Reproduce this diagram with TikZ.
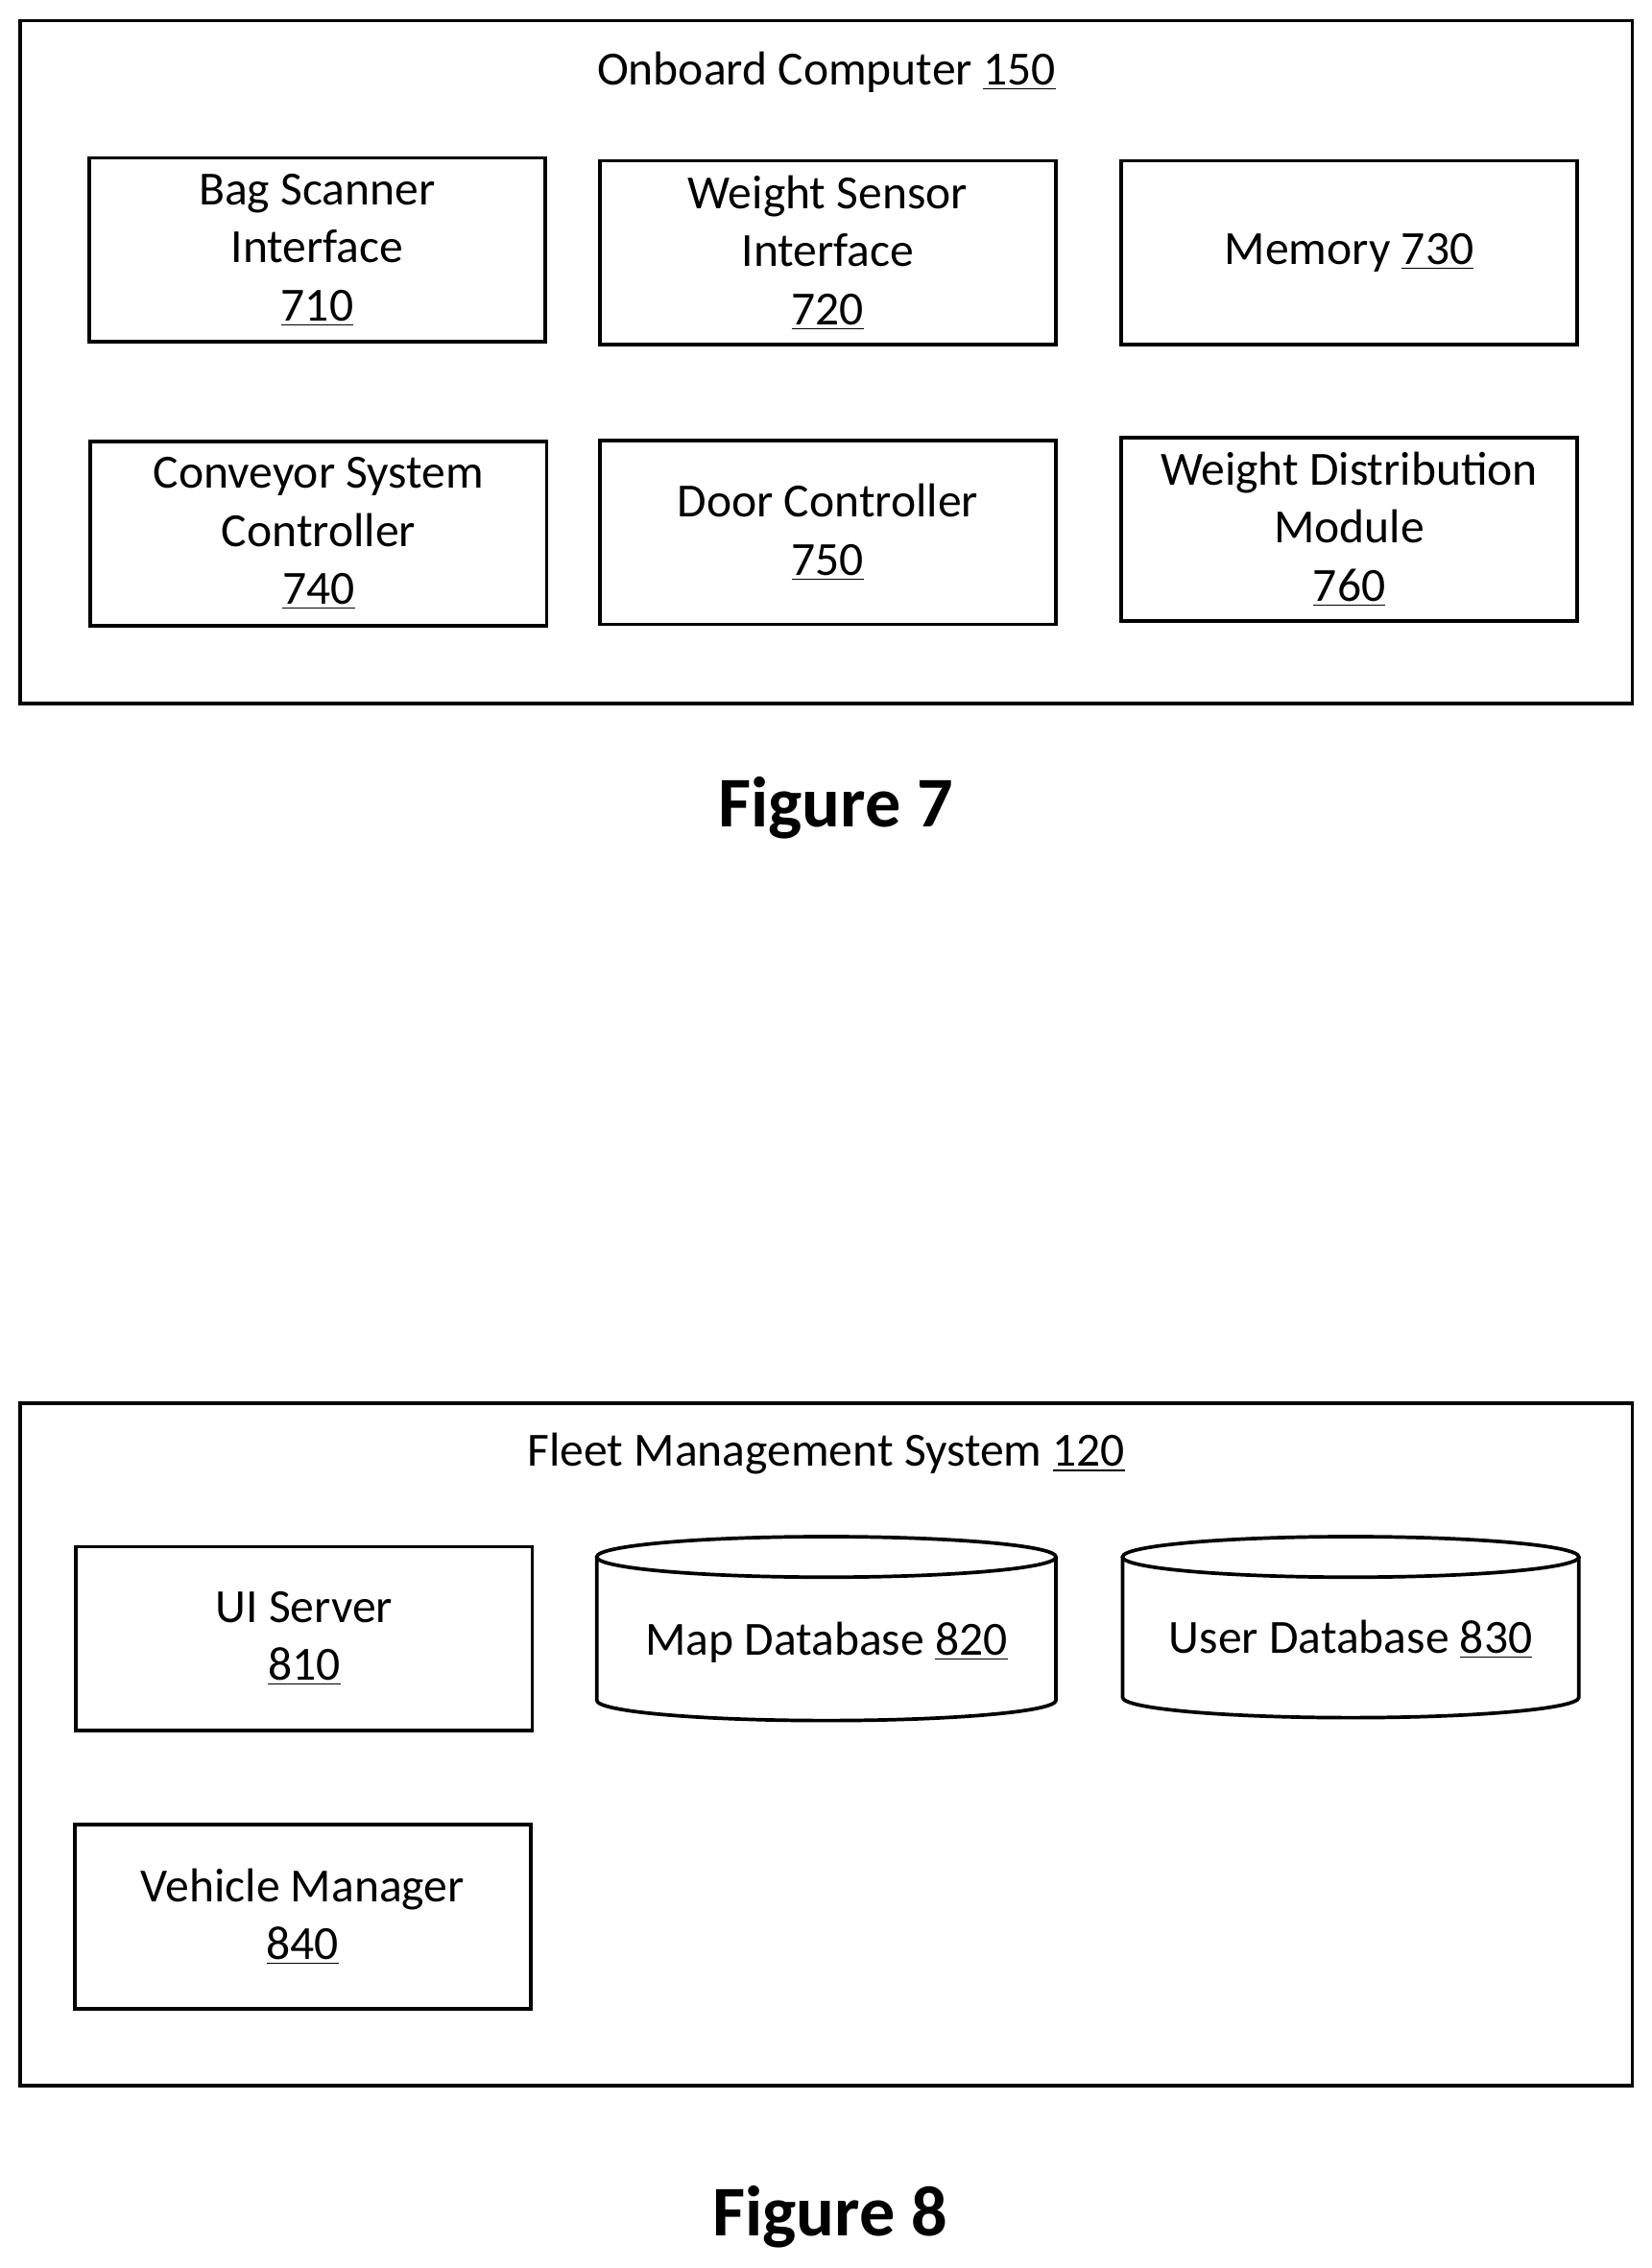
\documentclass[tikz,border=0pt]{standalone}
\usepackage{fontspec}
\setmainfont{Carlito}
\begin{document}
\begin{tikzpicture}[
  box/.style={draw, line width=1.4pt, minimum width=6.3cm, minimum height=2.54cm, align=center, font=\fontsize{18.7}{22.8}\selectfont, inner sep=0pt},
  outer/.style={draw, line width=1.4pt, minimum width=22.26cm, minimum height=9.43cm, inner sep=0pt},
  lbl/.style={font=\fontsize{18.7}{22.8}\selectfont, inner sep=0pt},
  fig/.style={font=\bfseries\fontsize{28}{34}\selectfont, inner sep=0pt},
  cyl/.style={line width=1.4pt}
]
\useasboundingbox (0,0) rectangle (22.8,-31.32);
% Figure 7
\node[outer] (oc) at (11.41,-5.0) {};
\node[lbl] (octitle) at (11.41,-1.0) {Onboard Computer \underline{150}};
\node[box] (b710) at (4.38,-3.45) {Bag Scanner\\Interface\\\underline{710}};
\node[box] (b720) at (11.43,-3.49) {Weight Sensor\\Interface\\\underline{720}};
\node[box] (b730) at (18.63,-3.49) {Memory \underline{730}};
\node[box] (b740) at (4.40,-7.37) {Conveyor System\\Controller\\\underline{740}};
\node[box] (b750) at (11.43,-7.35) {Door Controller\\\underline{750}};
\node[box] (b760) at (18.63,-7.31) {Weight Distribution\\Module\\\underline{760}};
\node[fig] (f7) at (11.54,-11.16) {Figure 7};
% Figure 8
\node[outer] (fms) at (11.41,-24.09) {};
\node[lbl] (fmstitle) at (11.41,-20.08) {Fleet Management System \underline{120}};
\node[box] (b810) at (4.2,-22.63) {UI Server\\\underline{810}};
\node[box] (b840) at (4.18,-26.47) {Vehicle Manager\\\underline{840}};
% cylinders
\draw[cyl] (11.41,-21.5) ellipse (3.17 and 0.28);
\draw[cyl] (8.24,-21.5) -- (8.24,-23.48) arc[start angle=180, end angle=360, x radius=3.17, y radius=0.28] -- (14.58,-21.5);
\node[lbl] (b820) at (11.41,-22.68) {Map Database \underline{820}};
\draw[cyl] (18.65,-21.5) ellipse (3.15 and 0.28);
\draw[cyl] (15.5,-21.5) -- (15.5,-23.44) arc[start angle=180, end angle=360, x radius=3.15, y radius=0.28] -- (21.8,-21.5);
\node[lbl] (b830) at (18.65,-22.64) {User Database \underline{830}};
\node[fig] (f8) at (11.46,-30.62) {Figure 8};
\end{tikzpicture}
\end{document}
